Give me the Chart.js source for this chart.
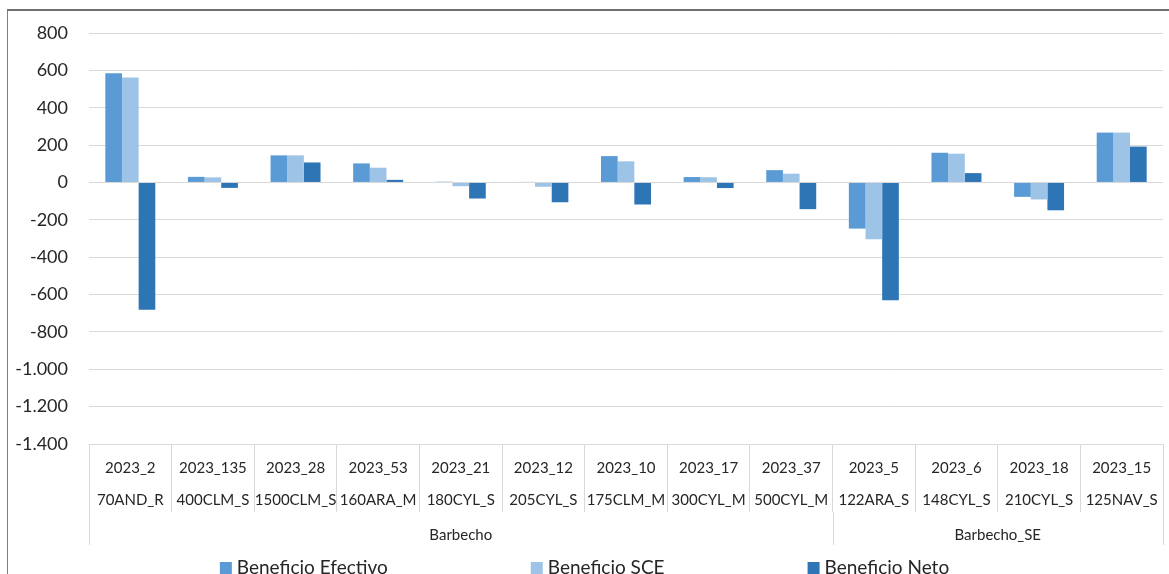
<!DOCTYPE html>
<html>
<head>
<meta charset="utf-8">
<script src="https://cdn.jsdelivr.net/npm/chart.js@4/dist/chart.umd.min.js"></script>
<style>
  html, body { margin: 0; padding: 0; background: #fff; overflow: hidden; }
  #wrap { position: relative; width: 1169px; height: 574px; }
  #frame { position: absolute; left: 7px; top: 9px; width: 1300px; height: 700px;
           border-left: 1px solid #7f7f7f; border-top: 2px solid #6f6f6f; box-sizing: border-box; }
  #myChart { position: absolute; left: 0; top: 0; }
</style>
</head>
<body>
<div id="wrap">
  <div id="frame"></div>
  <canvas id="myChart" width="1169" height="574"></canvas>
</div>
<script>
// categories (two label rows) and groups
const codes = ['2023_2', '2023_135', '2023_28', '2023_53', '2023_21', '2023_12', '2023_10',
               '2023_17', '2023_37', '2023_5', '2023_6', '2023_18', '2023_15'];
const sites = ['70AND_R', '400CLM_S', '1500CLM_S', '160ARA_M', '180CYL_S', '205CYL_S', '175CLM_M',
               '300CYL_M', '500CYL_M', '122ARA_S', '148CYL_S', '210CYL_S', '125NAV_S'];
const groupNames = ['Barbecho', 'Barbecho_SE'];
const groupSizes = [9, 4];

// series values
const beneficioEfectivo = [585, 30, 145, 102, 4, 3, 141, 29, 66, -247, 159, -77, 267];
const beneficioSCE = [562, 27, 145, 79, -20, -23, 113, 28, 47, -304, 154, -91, 267];
const beneficioNeto = [-682, -29, 107, 14, -86, -106, -118, -30, -143, -630, 50, -149, 192];

// y axis
const yMin = -1400, yMax = 800, yStep = 200;

Chart.defaults.font.family = 'Lato';
Chart.defaults.color = '#262626';

function fmt(v) {
    let s = Math.abs(v).toString().replace(/\B(?=(\d{3})+(?!\d))/g, '.');
    return (v < 0 ? '-' : '') + s;
}

// group row under the category labels + legend
const groupAxis = {
    id: 'groupAxis',
    afterDraw(chart) {
        const ctx = chart.ctx;
        const x = chart.scales.x;
        const top = chart.chartArea.bottom + 68;
        const bottom = chart.chartArea.bottom + 101;
        function edge(i) {
            if (i <= 0) return chart.chartArea.left;
            if (i >= codes.length) return chart.chartArea.right;
            return (x.getPixelForValue(i - 1) + x.getPixelForValue(i)) / 2;
        }
        ctx.save();
        ctx.strokeStyle = '#d9d9d9';
        ctx.lineWidth = 1;
        ctx.fillStyle = '#262626';
        ctx.font = '15px Lato';
        ctx.textAlign = 'center';
        ctx.textBaseline = 'middle';
        let start = 0;
        for (let g = 0; g <= groupSizes.length; g++) {
            let px = Math.round(edge(start)) + 0.5;
            ctx.beginPath();
            ctx.moveTo(px, top);
            ctx.lineTo(px, bottom);
            ctx.stroke();
            if (g < groupSizes.length) {
                let end = start + groupSizes[g];
                ctx.fillText(groupNames[g], (edge(start) + edge(end)) / 2, chart.chartArea.bottom + 91);
                start = end;
            }
        }

        // legend
        const items = chart.data.datasets;
        ctx.font = '19px Lato';
        ctx.textAlign = 'left';
        ctx.textBaseline = 'alphabetic';
        const box = 12, gapText = 5, gapItem = 143;
        let total = 0;
        items.forEach((d, i) => {
            total += box + gapText + ctx.measureText(d.label).width + (i < items.length - 1 ? gapItem : 0);
        });
        let lx = chart.width / 2 - total / 2;
        items.forEach((d) => {
            ctx.fillStyle = d.backgroundColor;
            ctx.fillRect(lx, 562, box, box);
            ctx.fillStyle = '#262626';
            ctx.fillText(d.label, lx + box + gapText, 574);
            lx += box + gapText + ctx.measureText(d.label).width + gapItem;
        });
        ctx.restore();
    }
};

var ctx = document.getElementById('myChart').getContext('2d');
var chart = new Chart(ctx, {
    type: 'bar',
    data: {
        labels: codes.map((c, i) => [c, sites[i]]),
        datasets: [
            { label: 'Beneficio Efectivo', backgroundColor: '#5B9BD5', data: beneficioEfectivo },
            { label: 'Beneficio SCE', backgroundColor: '#9DC3E6', data: beneficioSCE },
            { label: 'Beneficio Neto', backgroundColor: '#2E75B6', data: beneficioNeto }
        ]
    },
    options: {
        responsive: false,
        animation: false,
        datasets: {
            bar: { barPercentage: 1, categoryPercentage: 0.605 }
        },
        layout: { padding: { top: 33, right: 6, left: 0, bottom: 0 } },
        plugins: {
            legend: { display: false },
            tooltip: { enabled: false }
        },
        scales: {
            y: {
                min: yMin,
                max: yMax,
                afterFit(scale) { scale.width = 89; },
                ticks: {
                    stepSize: yStep,
                    padding: 21,
                    font: { size: 18 },
                    callback: (v) => fmt(v)
                },
                grid: { color: '#d9d9d9', drawTicks: false },
                border: { display: false }
            },
            x: {
                afterFit(scale) { scale.height = 130; },
                ticks: {
                    autoSkip: false,
                    maxRotation: 0,
                    minRotation: 0,
                    padding: -60,
                    font: { size: 15, lineHeight: '32px' }
                },
                grid: {
                    drawOnChartArea: false,
                    offset: true,
                    tickLength: 68,
                    color: '#d9d9d9'
                },
                border: { display: true, color: '#d9d9d9' }
            }
        }
    },
    plugins: [groupAxis]
});
</script>
</body>
</html>
